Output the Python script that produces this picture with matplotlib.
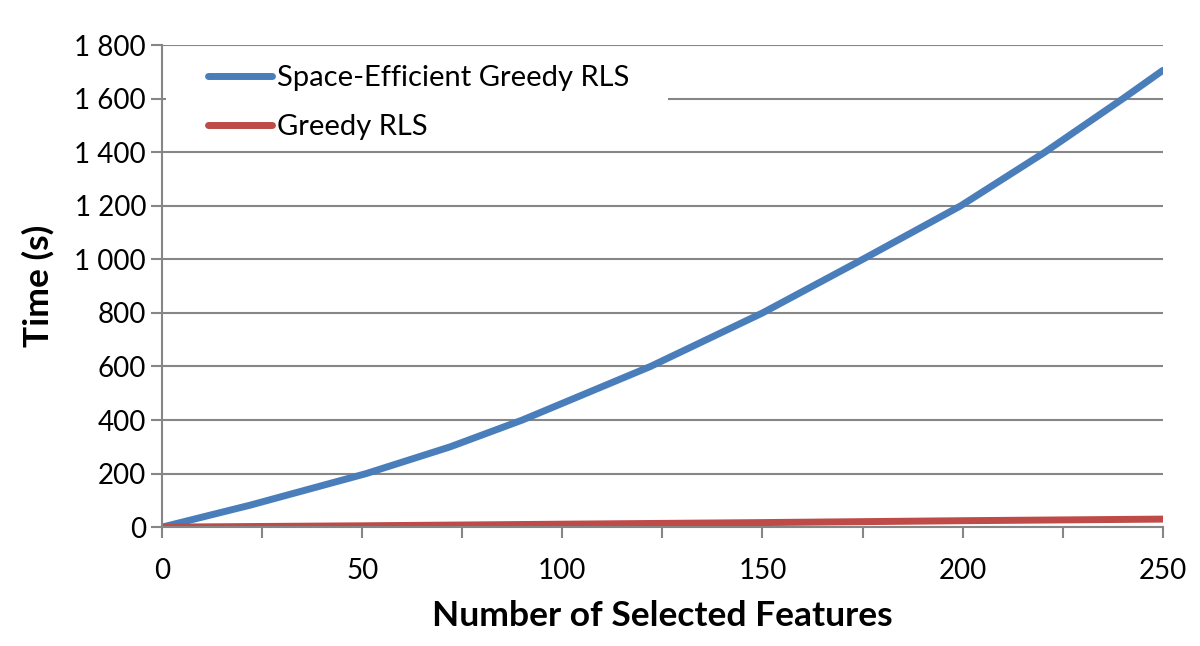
import matplotlib.pyplot as plt
from matplotlib.patches import Rectangle
from matplotlib.ticker import FuncFormatter, MultipleLocator

plt.rcParams['font.family'] = ['Lato', 'DejaVu Sans']

# Data
features_se = [0, 22, 51, 72, 90, 122, 150, 175, 199.5, 220.5, 240, 250]
time_space_efficient = [0, 82, 200, 300, 400, 600, 800, 1000, 1200, 1400, 1600, 1706]
features_g = [0, 50, 100, 150, 200, 250]
time_greedy = [0, 5, 11, 17, 24, 30]

blue = '#4a7ebb'
red = '#be4b48'
gray = '#868686'

fig = plt.figure(figsize=(12, 6.46), dpi=100)
ax = fig.add_axes([0.135, 0.184, 0.834, 0.746])

ax.plot(features_se, time_space_efficient, color=blue, lw=5, solid_capstyle='round',
        solid_joinstyle='round', label='Space-Efficient Greedy RLS')
ax.plot(features_g, time_greedy, color=red, lw=5, solid_capstyle='round',
        label='Greedy RLS')

ax.set_xlim(0, 250)
ax.set_ylim(0, 1800)
ax.xaxis.set_major_locator(MultipleLocator(50))
ax.xaxis.set_minor_locator(MultipleLocator(25))
ax.yaxis.set_major_locator(MultipleLocator(200))
ax.yaxis.set_major_formatter(FuncFormatter(lambda v, p: f'{int(v):,}'.replace(',', ' ')))

ax.grid(axis='y', color=gray, lw=1.5)
ax.set_axisbelow(True)
for side in ['top', 'right']:
    ax.spines[side].set_visible(False)
for side in ['left', 'bottom']:
    ax.spines[side].set_color(gray)
    ax.spines[side].set_linewidth(1.5)

ax.tick_params(axis='both', which='both', color=gray, width=1.5, length=8,
               labelsize=20, direction='out')
ax.tick_params(axis='x', pad=14)

ax.set_xlabel('Number of Selected Features', fontsize=25.5, fontweight='bold', labelpad=12)
ax.set_ylabel('Time (s)', fontsize=25.5, fontweight='bold', labelpad=14)

# white box behind the legend, hiding the 1 600 gridline
ax.add_patch(Rectangle((0.004, 0.785), 0.502, 0.205, transform=ax.transAxes,
                       facecolor='white', edgecolor='none', zorder=2.5))
ax.legend(loc='upper left', bbox_to_anchor=(0.046, 0.958), fontsize=21, frameon=False,
          handlelength=2.2, handletextpad=0.15, borderaxespad=0, borderpad=0,
          labelspacing=0.78)

plt.savefig('out.png')
